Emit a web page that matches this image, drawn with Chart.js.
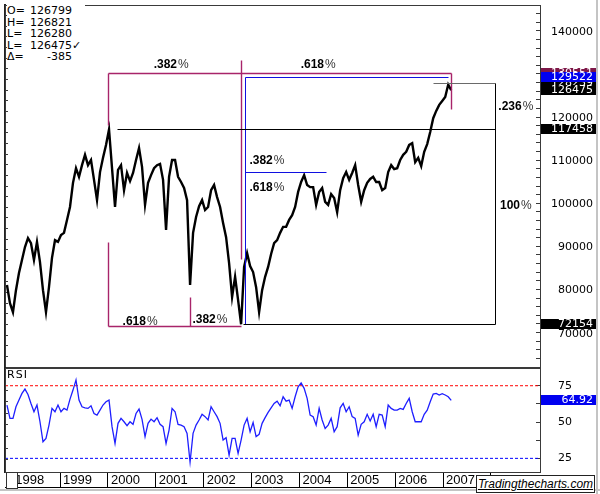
<!DOCTYPE html>
<html>
<head>
<meta charset="utf-8">
<script src="https://cdn.jsdelivr.net/npm/chart.js@4.4.1/dist/chart.umd.min.js"></script>
<style>
    html, body { margin: 0; padding: 0; background: #fff; }
    #wrap { position: relative; width: 600px; height: 494px; overflow: hidden; background: #fff; }
    canvas { position: absolute; left: 0; }
    #priceCanvas { top: 0; }
    #rsiCanvas { top: 367px; }
    #quote { position: absolute; left: 7px; top: 0; padding: 5px 4px 2px 0; background: #fff;
             font: 11px 'DejaVu Sans', sans-serif; line-height: 11.5px; color: #000; }
    #quote .k { display: inline-block; width: 21px; }
    #quote .v { display: inline-block; width: 44px; text-align: right; }
    #rsiLabel { position: absolute; left: 7px; top: 369px; font: 11px 'DejaVu Sans', sans-serif; letter-spacing: 1px; line-height: 12px; }
    #scrollBox { position: absolute; left: 6px; top: 472px; width: 10px; height: 15px; border: 1px solid #333; background: #fff; }
    #frameR { position: absolute; left: 596px; top: 0; width: 2px; height: 494px; background: #c4c4c4; }
    #frameB { position: absolute; left: 0; top: 489px; width: 600px; height: 2px; background: #c4c4c4; }
    #brand { position: absolute; left: 476px; top: 475px; width: 117px; height: 16px; border: 1px solid #222; background: #fff;
             font: italic 12px 'Liberation Sans', Arial, sans-serif; text-decoration: underline; text-align: center; line-height: 16px; color: #000; }
</style>
</head>
<body>
<div id="wrap">
    <canvas id="priceCanvas" width="600" height="368"></canvas>
    <canvas id="rsiCanvas" width="600" height="127"></canvas>
    <div id="frameR"></div>
    <div id="frameB"></div>
    <div id="quote"></div>
    <div id="rsiLabel">RSI</div>
    <div id="scrollBox"></div>
    <div id="brand">Tradingthecharts.com</div>
</div>
<script>
    // Values (index x10, samples every ~3 weeks)
    const dataStart = 1997.89;
    const dataStep = 0.0627;

    const priceValues = [
        81300, 77100, 75000, 80100, 84100, 87100, 90100, 92200, 91000, 87100,
        91300, 86600, 80100, 75000, 80800, 87600, 91700, 91300, 92900, 93400,
        96400, 99400, 105000, 108400, 106400, 109100, 111500, 109100, 110300, 105700,
        101000, 107500, 110800, 113800, 117400, 108400, 99400, 108000, 109100, 103300,
        107300, 105400, 107300, 110300, 113100, 108700, 99900, 105000, 106800, 108400,
        109100, 109400, 105700, 94100, 106400, 110300, 110300, 106400, 105200, 103800,
        101000, 81300, 93400, 97100, 99600, 101000, 98700, 99400, 103300, 104500,
        101700, 99400, 95700, 92400, 86400, 78500, 83200, 77800, 72200, 85500,
        88700, 85700, 84300, 80800, 75000, 80100, 83200, 85500, 88500, 91000,
        91700, 93400, 94800, 94800, 96400, 97500, 99400, 102900, 105200, 106800,
        104500, 104000, 104000, 99900, 102900, 103800, 100600, 99900, 102400, 101500,
        98200, 103300, 106100, 107500, 105700, 107300, 109100, 104500, 100600, 103300,
        105000, 105900, 106400, 105200, 105200, 103300, 103800, 107500, 109100, 108200,
        108400, 110300, 111500, 112200, 113800, 114200, 109800, 110800, 108900, 112200,
        114000, 116800, 120000, 121700, 123100, 124000, 124900, 127800, 126475
    ];

    const rsiValues = [
        61.7, 52.5, 52.5, 60.5, 65.1, 69.7, 72.7, 69.0, 62.8, 57.1,
        61.7, 50.2, 36.4, 38.7, 47.9, 59.4, 57.1, 61.7, 57.1, 59.4,
        58.2, 65.8, 72.0, 79.0, 65.1, 60.5, 59.8, 59.4, 61.2, 55.9,
        54.8, 58.2, 61.7, 64.0, 65.1, 46.8, 35.3, 49.1, 52.5, 50.2,
        47.5, 50.2, 48.4, 55.9, 58.9, 51.8, 39.9, 49.1, 52.0, 50.2,
        53.0, 48.4, 46.8, 35.3, 44.5, 59.4, 57.1, 48.4, 47.9, 46.8,
        42.2, 22.5, 42.2, 47.9, 51.4, 55.3, 53.7, 51.4, 60.5, 57.1,
        53.7, 49.1, 37.6, 39.2, 27.2, 38.7, 38.7, 28.4, 37.6, 47.9,
        52.5, 43.3, 49.7, 39.9, 41.5, 49.1, 53.0, 56.6, 59.8, 62.8,
        64.4, 61.2, 67.4, 64.4, 65.1, 59.4, 67.4, 74.3, 77.0, 73.2,
        66.3, 54.8, 53.7, 47.9, 59.4, 51.4, 45.6, 47.9, 52.5, 43.3,
        46.8, 59.8, 62.8, 57.1, 60.5, 53.7, 52.5, 41.0, 48.4, 50.2,
        55.3, 50.7, 55.3, 46.8, 55.3, 54.8, 46.8, 61.7, 59.4, 58.2,
        58.2, 59.4, 58.7, 62.8, 66.3, 57.1, 50.2, 50.2, 50.2, 55.3,
        58.2, 64.0, 69.3, 69.7, 68.6, 69.5, 68.6, 67.4, 64.92
    ];

    const yearTicks = [1998, 1999, 2000, 2001, 2002, 2003, 2004, 2005, 2006, 2007, 2008];
    const yearLabels = ['1998', '1999', '2000', '2001', '2002', '2003', '2004', '2005', '2006', '2007'];
    const priceLabelTicks = [70000, 80000, 90000, 100000, 110000, 120000, 130000, 140000];
    const rsiTicks = [25, 37.5, 50, 62.5, 75];
    const rsiLabelTicks = [25, 50, 75];
    const rsiUpper = 75;
    const rsiLower = 25;

    const quoteLabels = ['O=', 'H=', 'L=', 'L=', '\u0394='];
    const quoteValues = ['126799', '126821', '126280', '126475', '-385'];

    // Fibonacci drawing: key dates (years) and price levels
    const peakDate = 2000.0, sept01Date = 2001.71, lowDate = 2002.77, blueDate = 2002.86;
    const fibEndDate = 2004.55, highDate = 2006.79, blueEndDate = 2007.10, lastDate = 2007.17;
    const boxDate = 2008.08, peakLineDate = 2000.19, bottomStartDate = 2002.83;
    const topLevel = 130551, blueLevel = 129522, highLevel = 128239, closeLevel = 126475;
    const peakLevel = 117458, fibLevel = 107607, lowLevel = 72154, baseLevel = 71800;

    const xMin = 1997.849, xMax = 2009.024;
    const priceMin = 62280, priceMax = 146264;
    const rsiMin = 15.6, rsiMax = 87.2;

    const MAGENTA = '#a8246a';
    const BLUE = '#1010e0';

    // segments [date1, price1, date2, price2, colour]
    const fibSegments = [
        [peakDate, topLevel, lastDate, topLevel, MAGENTA],
        [peakDate, topLevel, peakDate, 118400, MAGENTA],
        [peakDate, 91300, peakDate, baseLevel, MAGENTA],
        [peakDate, baseLevel, lowDate, baseLevel, MAGENTA],
        [sept01Date, 78500, sept01Date, baseLevel, MAGENTA],
        [lowDate, 133500, lowDate, 87300, MAGENTA],
        [lastDate, topLevel, lastDate, 122100, MAGENTA],
        [blueDate, blueLevel, blueEndDate, blueLevel, BLUE],
        [blueDate, blueLevel, blueDate, 72300, BLUE],
        [blueDate, fibLevel, fibEndDate, fibLevel, BLUE],
        [highDate, highLevel, boxDate, highLevel, '#6a6a6a'],
        [peakLineDate, peakLevel, boxDate, peakLevel, '#000'],
        [boxDate, highLevel, boxDate, lowLevel, '#000'],
        [bottomStartDate, lowLevel, boxDate, lowLevel, '#000']
    ];

    // percentage labels [text, date, price]
    const fibLabels = [
        ['.382', 2001.32, 132344],
        ['.618', 2004.39, 132344],
        ['.236', 2008.52, 122600],
        ['100', 2008.52, 99632],
        ['.382', 2003.32, 110072],
        ['.618', 2003.32, 103808],
        ['.618', 2000.67, 72720],
        ['.382', 2002.13, 73184]
    ];

    // price tags on the right axis [value, background]
    const priceTags = [
        [topLevel, '#7d1748'],
        [highLevel, '#000'],
        [blueLevel, '#0000f0'],
        [closeLevel, '#000'],
        [peakLevel, '#000'],
        [lowLevel, '#000']
    ];

    const FONT = "'DejaVu Sans', sans-serif";
    const AXIS = '#3a3a3a';

    document.getElementById('quote').innerHTML = quoteLabels.map((k, i) =>
        `<div><span class="k">${k}</span><span class="v">${quoteValues[i]}</span>${i === 3 ? '\u2713' : ''}</div>`
    ).join('');

    const toPoints = vals => vals.map((v, i) => ({ x: dataStart + i * dataStep, y: v }));

    function drawTag(ctx, area, y, bg, text) {
        ctx.fillStyle = bg;
        ctx.fillRect(area.right + 1, Math.round(y) - 5, 55, 10);
        ctx.fillStyle = '#fff';
        ctx.font = '11px ' + FONT;
        ctx.textAlign = 'right';
        ctx.textBaseline = 'middle';
        ctx.fillText(text, area.right + 53, Math.round(y) + 0.5);
    }

    function drawPct(ctx, cx, cy, num) {
        ctx.font = 'bold 12px "Liberation Sans", Arial, sans-serif';
        const w1 = ctx.measureText(num).width;
        ctx.font = '12px "Liberation Sans", Arial, sans-serif';
        const w2 = ctx.measureText('%').width;
        const left = cx - (w1 + w2 + 1) / 2;
        ctx.textAlign = 'left';
        ctx.textBaseline = 'middle';
        ctx.fillStyle = '#000';
        ctx.font = 'bold 12px "Liberation Sans", Arial, sans-serif';
        ctx.fillText(num, left, cy);
        ctx.fillStyle = '#333';
        ctx.font = '12px "Liberation Sans", Arial, sans-serif';
        ctx.fillText('%', left + w1 + 1, cy);
    }

    // right-hand axis labels, right aligned at a fixed edge
    function drawAxisLabels(ctx, scale, values, rightX) {
        ctx.fillStyle = '#000';
        ctx.font = '11px ' + FONT;
        ctx.textAlign = 'right';
        ctx.textBaseline = 'middle';
        values.forEach(v => ctx.fillText(String(v), rightX, scale.getPixelForValue(v)));
    }

    const frame = {
        id: 'frame',
        afterDraw(chart) {
            const { ctx, chartArea: a } = chart;
            ctx.save();
            ctx.strokeStyle = AXIS;
            ctx.lineWidth = 1;
            ctx.strokeRect(a.left + 0.5, a.top + 0.5, a.width, a.height);
            ctx.restore();
        }
    };

    const priceOverlay = {
        id: 'priceOverlay',
        afterDatasetsDraw(chart) {
            const { ctx, chartArea: a, scales: { x, y } } = chart;
            ctx.save();
            ctx.beginPath();
            ctx.rect(a.left, a.top, a.width, a.height);
            ctx.clip();
            fibSegments.forEach(([d1, p1, d2, p2, color]) => {
                ctx.strokeStyle = color;
                ctx.lineWidth = color === MAGENTA ? 1.4 : 1;
                ctx.beginPath();
                ctx.moveTo(Math.round(x.getPixelForValue(d1)) + 0.5, Math.round(y.getPixelForValue(p1)) + 0.5);
                ctx.lineTo(Math.round(x.getPixelForValue(d2)) + 0.5, Math.round(y.getPixelForValue(p2)) + 0.5);
                ctx.stroke();
            });
            fibLabels.forEach(([t, d, p]) => drawPct(ctx, x.getPixelForValue(d), y.getPixelForValue(p), t));
            ctx.restore();
        },
        afterDraw(chart) {
            const { ctx, chartArea: a, scales: { y } } = chart;
            ctx.save();
            drawAxisLabels(ctx, y, priceLabelTicks, a.right + 53);
            priceTags.forEach(([v, bg]) => drawTag(ctx, a, y.getPixelForValue(v), bg, String(v)));
            ctx.restore();
        }
    };

    const rsiOverlay = {
        id: 'rsiOverlay',
        afterDraw(chart) {
            const { ctx, chartArea: a, scales: { x, y } } = chart;
            ctx.save();
            drawAxisLabels(ctx, y, rsiLabelTicks, a.right + 32);
            const last = rsiValues[rsiValues.length - 1];
            drawTag(ctx, a, y.getPixelForValue(last), '#0000f0', last.toFixed(2));
            // year labels sit just right of each separator
            ctx.fillStyle = '#000';
            ctx.font = '13px "Liberation Sans", Arial, sans-serif';
            ctx.textAlign = 'left';
            ctx.textBaseline = 'middle';
            yearLabels.forEach((t, i) => ctx.fillText(t, x.getPixelForValue(yearTicks[i]) + 3, x.top + 8));
            // bottom line of the year strip
            ctx.strokeStyle = '#000';
            ctx.lineWidth = 1;
            ctx.beginPath();
            ctx.moveTo(a.left, x.top + 15.5);
            ctx.lineTo(a.right, x.top + 15.5);
            ctx.stroke();
            ctx.restore();
        }
    };

    new Chart(document.getElementById('priceCanvas'), {
        type: 'line',
        data: {
            datasets: [{
                data: toPoints(priceValues),
                borderColor: '#000',
                borderWidth: 2.4,
                pointRadius: 0,
                tension: 0
            }]
        },
        options: {
            responsive: false,
            animation: false,
            events: [],
            layout: { autoPadding: false, padding: { top: 5, bottom: 1, left: 0, right: 0 } },
            plugins: { legend: { display: false }, tooltip: { enabled: false } },
            scales: {
                x: { type: 'linear', min: xMin, max: xMax, display: false },
                y: {
                    position: 'right',
                    min: priceMin,
                    max: priceMax,
                    ticks: { display: false, stepSize: 2000, autoSkip: false },
                    grid: { drawOnChartArea: false, tickLength: -4, color: AXIS },
                    border: { color: AXIS },
                    afterFit: s => { s.width = 60; }
                },
                yl: {
                    position: 'left',
                    min: priceMin,
                    max: priceMax,
                    ticks: { display: false, stepSize: 2500, autoSkip: false },
                    grid: { drawOnChartArea: false, tickLength: -3, color: AXIS },
                    border: { color: '#222', width: 2 },
                    afterFit: s => { s.width = 5; }
                }
            }
        },
        plugins: [frame, priceOverlay]
    });

    new Chart(document.getElementById('rsiCanvas'), {
        type: 'line',
        data: {
            datasets: [
                { data: toPoints(rsiValues), borderColor: '#1e1eff', borderWidth: 1.3, pointRadius: 0, tension: 0 },
                { data: [{ x: xMin, y: rsiUpper }, { x: xMax, y: rsiUpper }], borderColor: '#ff0000', borderWidth: 1, borderDash: [3, 2], pointRadius: 0 },
                { data: [{ x: xMin, y: rsiLower }, { x: xMax, y: rsiLower }], borderColor: '#0000ff', borderWidth: 1, borderDash: [3, 2], pointRadius: 0 }
            ]
        },
        options: {
            responsive: false,
            animation: false,
            events: [],
            layout: { autoPadding: false, padding: { top: 1, bottom: 7, left: 0, right: 0 } },
            plugins: { legend: { display: false }, tooltip: { enabled: false } },
            scales: {
                x: {
                    type: 'linear',
                    min: xMin,
                    max: xMax,
                    afterBuildTicks: s => { s.ticks = yearTicks.map(v => ({ value: v })); },
                    ticks: { display: false },
                    grid: { drawOnChartArea: false, tickLength: 15, color: '#000' },
                    border: { color: '#000' },
                    afterFit: s => { s.height = 15; }
                },
                y: {
                    position: 'right',
                    min: rsiMin,
                    max: rsiMax,
                    afterBuildTicks: s => { s.ticks = rsiTicks.map(v => ({ value: v })); },
                    ticks: { display: false },
                    grid: { drawOnChartArea: false, tickLength: -4, color: AXIS },
                    border: { color: AXIS },
                    afterFit: s => { s.width = 60; }
                },
                yl: {
                    position: 'left',
                    min: rsiMin,
                    max: rsiMax,
                    ticks: { display: false, stepSize: 8 },
                    grid: { drawOnChartArea: false, tickLength: -3, color: AXIS },
                    border: { color: '#222', width: 2 },
                    afterFit: s => { s.width = 5; }
                }
            }
        },
        plugins: [frame, rsiOverlay]
    });
</script>
</body>
</html>
